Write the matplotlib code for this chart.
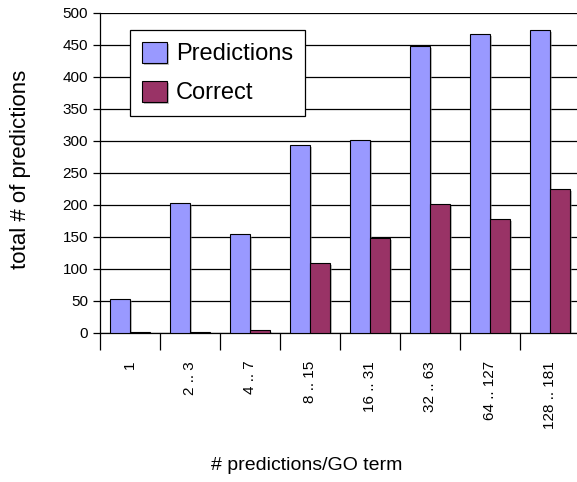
import matplotlib.pyplot as plt
import matplotlib.patheffects as pe
import numpy as np

plt.rcParams['font.family'] = ['Liberation Sans', 'DejaVu Sans']

categories = ['1', '2 .. 3', '4 .. 7', '8 .. 15', '16 .. 31', '32 .. 63', '64 .. 127', '128 .. 181']
predictions = [53, 203, 154, 294, 301, 448, 467, 473]
correct = [1, 1, 5, 109, 148, 202, 178, 225]

fig = plt.figure(figsize=(5.77, 4.82), dpi=100)
ax = fig.add_axes([100/577, 1-333/482, 480/577, 320/482])

x = np.arange(len(categories))
w = 1/3
shadow = [pe.SimplePatchShadow(offset=(1.5, -1.5), shadow_rgbFace='gray', alpha=0.5), pe.Normal()]
b1 = ax.bar(x - w/2, predictions, w, color='#9999ff', edgecolor='black', linewidth=0.8,
            label='Predictions', zorder=3)
b2 = ax.bar(x + w/2, correct, w, color='#993366', edgecolor='black', linewidth=0.8,
            label='Correct', zorder=3)
for p in list(b1) + list(b2):
    p.set_path_effects(shadow)

ax.set_xlim(-0.5, len(categories) - 0.5)
ax.set_ylim(0, 500)
ax.set_yticks(range(0, 501, 50))
ax.yaxis.grid(True, color='black', linewidth=0.9, zorder=0)
ax.tick_params(axis='y', direction='out', length=5, labelsize=11, width=0.9)

ax.set_xticks(x)
ax.set_xticklabels(categories, rotation=90, va='top', fontsize=11)
ax.set_xticks(np.arange(len(categories)) - 0.5, minor=True)
ax.tick_params(axis='x', which='major', length=0, pad=20)
ax.tick_params(axis='x', which='minor', direction='out', length=12, width=0.9)

for s in ['top', 'right']:
    ax.spines[s].set_visible(False)
ax.spines['left'].set_linewidth(0.9)
ax.spines['bottom'].set_linewidth(0.9)

fig.text(21/577, 1-169/482, 'total # of predictions', rotation=90, ha='center', va='center', fontsize=16)
fig.text(307/577, 1-465/482, '# predictions/GO term', ha='center', va='center', fontsize=14)

leg = ax.legend(loc='upper left', bbox_to_anchor=(30/480, 303/320), borderaxespad=0, fontsize=17,
                fancybox=False, framealpha=1, edgecolor='black', handlelength=1.05, handleheight=1.0,
                borderpad=0.5, labelspacing=0.65, handletextpad=0.4)
leg.get_frame().set_linewidth(0.9)

fig.savefig('out.png', dpi=100)
